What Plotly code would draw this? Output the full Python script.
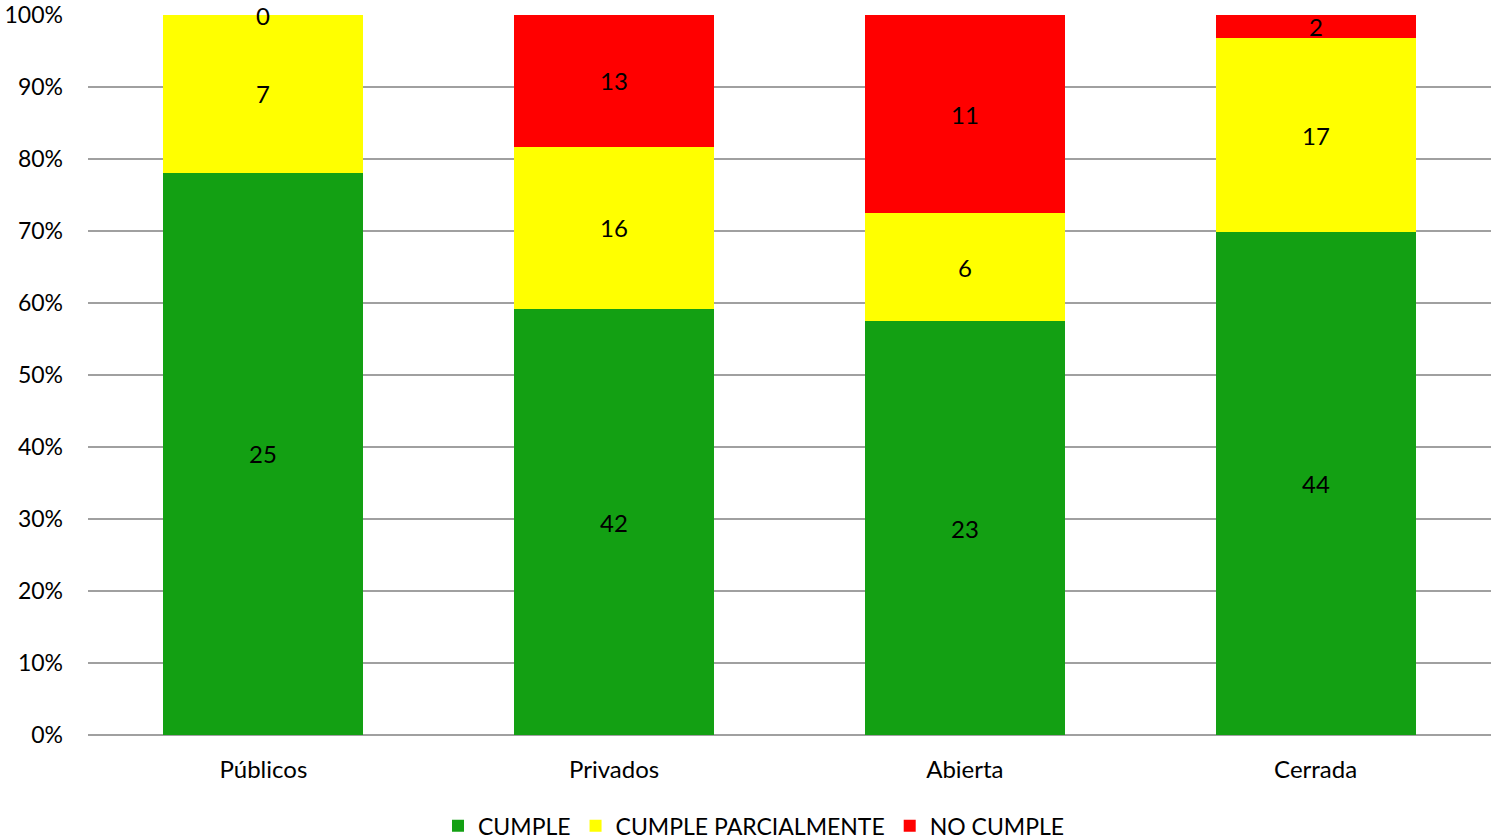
import plotly.graph_objects as go

categories = ["Públicos", "Privados", "Abierta", "Cerrada"]
cumple = [25, 42, 23, 44]
parcial = [7, 16, 6, 17]
no_cumple = [0, 13, 11, 2]
series_names = ["CUMPLE", "CUMPLE PARCIALMENTE", "NO CUMPLE"]
colors = ["#13A013", "#FFFF00", "#FF0000"]
y_ticks = [0, 10, 20, 30, 40, 50, 60, 70, 80, 90, 100]
y_tick_labels = [f"{v}%" for v in y_ticks]

series = [cumple, parcial, no_cumple]
totals = [sum(s[i] for s in series) for i in range(len(categories))]
pct = [[100.0 * s[i] / totals[i] for i in range(len(categories))] for s in series]

FONT = "Lato"
fig = go.Figure()
for name, vals, p, col in zip(series_names, series, pct, colors):
    fig.add_trace(go.Bar(
        x=categories, y=p, name=name, marker=dict(color=col, line=dict(width=0)),
        hoverinfo="skip",
    ))

annotations = []
for i, cat in enumerate(categories):
    base = 0.0
    for s_idx in range(len(series)):
        h = pct[s_idx][i]
        annotations.append(dict(
            x=cat, y=base + h / 2, xref="x", yref="y", text=str(series[s_idx][i]),
            showarrow=False, font=dict(family=FONT, size=24, color="#000000"),
        ))
        base += h

fig.update_layout(
    barmode="stack", bargap=0.43,
    width=1491, height=839,
    margin=dict(l=88, r=0, t=15, b=104, autoexpand=False),
    plot_bgcolor="white", paper_bgcolor="white",
    font=dict(family=FONT, size=23, color="#000000"),
    showlegend=True,
    legend=dict(orientation="h", x=0.4747, xanchor="center", xref="paper", y=-0.126, yanchor="middle",
                font=dict(family=FONT, size=23), traceorder="normal"),
    annotations=annotations,
    xaxis=dict(showgrid=False, showline=False, ticks="", tickfont=dict(size=24),
               ticklabelstandoff=18),
    yaxis=dict(range=[0, 100.001], tickvals=y_ticks, ticktext=y_tick_labels,
               showgrid=True, gridcolor="#A0A0A0", gridwidth=2, zeroline=True, zerolinecolor="#A0A0A0",
               zerolinewidth=2, ticks="", ticklabelstandoff=24, tickfont=dict(size=23),
               ticklabeloverflow="allow"),
)
fig.write_html("out.html")
